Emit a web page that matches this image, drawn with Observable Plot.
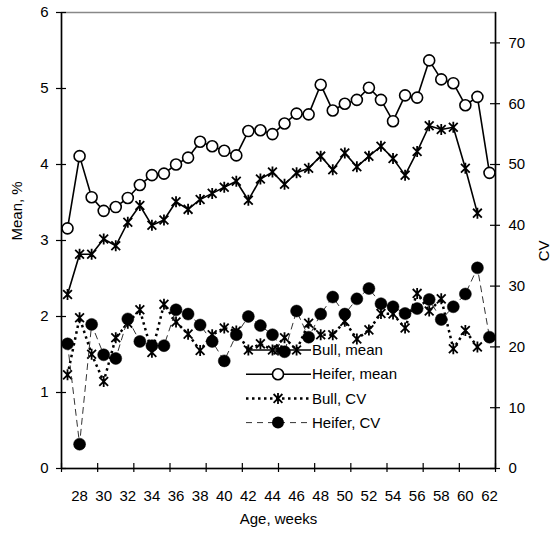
<!DOCTYPE html>
<html><head><meta charset="utf-8">
<script src="https://cdn.jsdelivr.net/npm/d3@7"></script>
<script src="https://cdn.jsdelivr.net/npm/@observablehq/plot@0.6"></script>
<style>
body{margin:0;background:#fff;}
#chart{position:relative;width:553px;height:535px;}
</style>
</head><body><div id="chart"></div>
<script>
const weeks = [27,28,29,30,31,32,33,34,35,36,37,38,39,40,41,42,43,44,45,46,47,48,49,50,51,52,53,54,55,56,57,58,59,60,61,62];
const bullMean = [2.29,2.82,2.82,3.02,2.93,3.24,3.46,3.20,3.27,3.51,3.41,3.54,3.62,3.70,3.78,3.53,3.81,3.90,3.74,3.89,3.95,4.11,3.93,4.15,3.97,4.11,4.24,4.08,3.86,4.17,4.51,4.46,4.49,3.95,3.36,null];
const heiferMean = [3.16,4.11,3.57,3.39,3.44,3.56,3.73,3.86,3.88,4.00,4.09,4.30,4.24,4.18,4.12,4.44,4.45,4.40,4.54,4.67,4.66,5.05,4.71,4.80,4.85,5.01,4.85,4.57,4.91,4.88,5.37,5.12,5.07,4.78,4.89,3.89];
const bullCV = [15.4,24.8,18.8,14.3,21.5,23.9,26.1,19.1,27.0,24.1,22.1,19.4,22.0,23.1,22.6,19.5,20.5,19.5,21.5,19.5,23.9,22.0,22.0,24.2,21.3,22.8,25.5,25.4,23.1,28.8,25.9,27.9,19.7,22.7,20.0,null];
const heiferCV = [20.5,4.0,23.7,18.7,18.1,24.6,20.9,20.2,20.2,26.1,25.4,23.6,20.9,17.7,22.0,25.0,23.5,22.0,19.2,25.9,21.6,25.4,28.2,25.4,27.9,29.6,27.1,26.6,25.5,26.3,27.8,24.5,26.6,28.7,33.0,21.6];

const meanTicks = [0,1,2,3,4,5,6];
const cvTicks = [0,10,20,30,40,50,60,70];
const weekLabels = [28,30,32,34,36,38,40,42,44,46,48,50,52,54,56,58,60,62];
const weekTickMarks = [26.5,29.5,32.5,35.5,38.5,41.5,44.5,47.5,50.5,53.5,56.5,59.5,62.5];
const seriesNames = ["Bull, mean","Heifer, mean","Bull, CV","Heifer, CV"];
const meanMax = 6, cvMax = 75;
const toMean = v => v == null ? null : v * meanMax / cvMax;

const rows = weeks.map((w,i)=>({w, bm: bullMean[i], hm: heiferMean[i], bc: toMean(bullCV[i]), hc: toMean(heiferCV[i])}));

const star = {draw(ctx, size){
  const r = Math.sqrt(size/Math.PI), a = r*0.8;
  ctx.moveTo(0,-r); ctx.lineTo(0,r);
  ctx.moveTo(-a,-a); ctx.lineTo(a,a);
  ctx.moveTo(-a,a); ctx.lineTo(a,-a);
}};

const FONT = "Liberation Sans, Arial, sans-serif";
const xDom = [weekTickMarks[0], weekTickMarks[weekTickMarks.length-1]];
const cvTickPos = cvTicks.map(toMean);

const chart = Plot.plot({
  width: 553, height: 535,
  marginLeft: 61, marginRight: 58, marginTop: 12, marginBottom: 67,
  style: {fontFamily: FONT, fontSize: "15px", background: "#fff", color: "#000"},
  x: {type: "linear", domain: xDom, label: null},
  y: {domain: [0, meanMax], label: null},
  marks: [
    Plot.frame({stroke: "#888", strokeWidth: 1.5}),
    Plot.ruleX(xDom, {stroke: "#000", strokeWidth: 1.5}),
    Plot.ruleY([0], {stroke: "#000", strokeWidth: 1.5}),
    // crossing tick marks (zero-length rules widened by negative insets)
    Plot.ruleY(meanTicks, {y: d => d, x1: () => xDom[0], x2: () => xDom[0], insetLeft: -5, insetRight: -5, stroke: "#000", strokeWidth: 1.2}),
    Plot.ruleY(cvTickPos, {y: d => d, x1: () => xDom[1], x2: () => xDom[1], insetLeft: -5, insetRight: -5, stroke: "#000", strokeWidth: 1.2}),
    Plot.ruleX(weekTickMarks, {x: d => d, y1: () => 0, y2: () => 0, insetTop: -5, insetBottom: -4, stroke: "#000", strokeWidth: 1.2}),
    Plot.axisY(meanTicks, {anchor: "left", tickSize: 0, tickPadding: 13, fontSize: 15, label: null, tickFormat: d => String(d)}),
    Plot.axisY(cvTickPos, {anchor: "right", tickSize: 0, tickPadding: 13, fontSize: 15, label: null, tickFormat: d => String(Math.round(d*cvMax/meanMax))}),
    Plot.axisX(weekLabels, {anchor: "bottom", tickSize: 0, tickPadding: 22, fontSize: 15, label: null, tickFormat: d => String(d)}),
    Plot.text(["Mean, %"], {frameAnchor: "left", dx: -44, rotate: -90, fontSize: 15, fill: "#000"}),
    Plot.text(["CV"], {frameAnchor: "right", dx: 49, rotate: -90, fontSize: 15, fill: "#000"}),
    Plot.text(["Age, weeks"], {frameAnchor: "bottom", dy: 55, fontSize: 15, fill: "#000"}),
    // Bull, mean
    Plot.line(rows, {x: "w", y: "bm", stroke: "#000", strokeWidth: 1.6}),
    Plot.dot(rows, {x: "w", y: "bm", symbol: star, r: 5.5, stroke: "#000", fill: "none", strokeWidth: 1.8}),
    // Heifer, mean
    Plot.line(rows, {x: "w", y: "hm", stroke: "#000", strokeWidth: 1.6}),
    Plot.dot(rows, {x: "w", y: "hm", r: 5.5, stroke: "#000", fill: "#fff", strokeWidth: 1.6}),
    // Bull, CV
    Plot.line(rows, {x: "w", y: "bc", stroke: "#000", strokeWidth: 2.5, strokeDasharray: "2.5,3.5", strokeLinecap: "butt"}),
    Plot.dot(rows, {x: "w", y: "bc", symbol: star, r: 5.5, stroke: "#000", fill: "none", strokeWidth: 1.8}),
    // Heifer, CV
    Plot.line(rows, {x: "w", y: "hc", stroke: "#333", strokeWidth: 1, strokeDasharray: "6,5"}),
    Plot.dot(rows, {x: "w", y: "hc", r: 6, fill: "#000", stroke: "#000", strokeWidth: 0.5})
  ]
});

// Legend (inside plot area)
const svg = d3.select(chart);
const lg = svg.append("g").attr("font-family", FONT).attr("font-size", 15).attr("text-anchor", "start");
const styles = [
  {dash: null, w: 1.6, marker: "star"},
  {dash: null, w: 1.6, marker: "open"},
  {dash: "2.5,3.5", w: 2.5, marker: "star"},
  {dash: "6,5", w: 1, marker: "filled", stroke: "#333"}
];
const starPath = d3.symbol().type(star).size(Math.PI*5.5*5.5)();
seriesNames.forEach((name, i) => {
  const yy = 350 + i*24.2, x0 = 246, x1 = 311, xm = 278;
  const s = styles[i];
  lg.append("line").attr("x1", x0).attr("x2", x1).attr("y1", yy).attr("y2", yy)
    .attr("stroke", s.stroke || "#000").attr("stroke-width", s.w)
    .attr("stroke-dasharray", s.dash);
  if (s.marker === "star") lg.append("path").attr("d", starPath).attr("transform", `translate(${xm},${yy})`).attr("stroke", "#000").attr("stroke-width", 1.8).attr("fill", "none");
  if (s.marker === "open") lg.append("circle").attr("cx", xm).attr("cy", yy).attr("r", 5.5).attr("fill", "#fff").attr("stroke", "#000").attr("stroke-width", 1.6);
  if (s.marker === "filled") lg.append("circle").attr("cx", xm).attr("cy", yy).attr("r", 6).attr("fill", "#000");
  lg.append("text").attr("x", x1 + 1).attr("y", yy).attr("dy", "0.35em").attr("fill", "#000").attr("text-anchor", "start").text(name);
});

document.getElementById("chart").appendChild(chart);
</script>
</body></html>
